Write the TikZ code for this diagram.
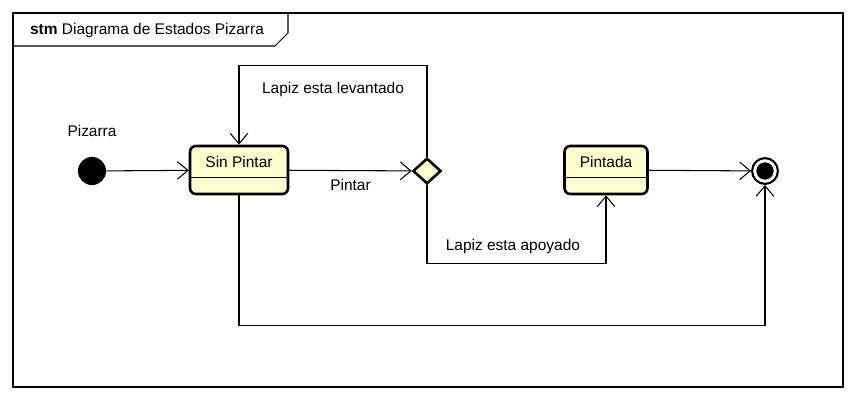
\documentclass[tikz,border=0pt]{standalone}
\usepackage{fontspec}
\setmainfont{Liberation Sans}
\usetikzlibrary{arrows.meta,shapes.geometric}
\definecolor{stfill}{RGB}{254,254,206}
\begin{document}
\begin{tikzpicture}[x=0.03cm,y=-0.03cm,
		every node/.style={font=\fontsize{13.2}{15}\selectfont},
		state/.style={draw,line width=2.2pt,rounded corners=5pt,fill=stfill,minimum height=41pt,inner sep=0pt},
		trans/.style={line width=0.9pt,-{Straight Barb[length=9pt,width=15pt,line width=0.9pt]}}]
		% bounding box and frame
		\useasboundingbox (0,0) rectangle (857,401);
		\draw[line width=0.9pt] (13,13) rectangle (843,387);
		\draw[line width=0.9pt] (13,46) -- (275,46) -- (288,33) -- (288,13);
		\node[anchor=west] (title) at (26,31) {\textbf{stm} Diagrama de Estados Pizarra};
		% Initial state
		\node[circle,fill=black,minimum size=24pt,inner sep=0pt] (ini) at (92,171) {};
		\node (inilbl) at (92,131) {Pizarra};
		% State Sin Pintar
		\node[state,minimum width=83.6pt] (sin) at (239,170) {};
		\node[yshift=6.5pt] (sintxt) at (sin) {Sin Pintar};
		\draw[line width=0.9pt] ([yshift=-6pt]sin.west) -- ([yshift=-6pt]sin.east);
		% Decision
		\node[diamond,draw,line width=2.2pt,fill=stfill,minimum width=24pt,minimum height=22pt,inner sep=0pt] (dec) at (427,171) {};
		% State Pintada
		\node[state,minimum width=70.8pt] (pin) at (606,170) {};
		\node[yshift=6.5pt] (pintxt) at (pin) {Pintada};
		\draw[line width=0.9pt] ([yshift=-6pt]pin.west) -- ([yshift=-6pt]pin.east);
		% Final state
		\node[circle,draw,line width=1.8pt,minimum size=22pt,inner sep=0pt] (fin) at (765,171) {};
		\fill (fin) circle (7.4pt);
		% Transitions
		\draw[trans] (ini) -- (sin);
		\draw[trans] (sin) -- (dec) node[pos=0.5,below=4pt] (lblpintar) {Pintar};
		\draw[trans] (dec.north) -- ++(0,-91) -| (sin.north)
			node[pos=0.25,below=10pt] (lbllev) {Lapiz esta levantado};
		\draw[trans] (dec.south) -- ++(0,78) -| (pin.south)
			node[pos=0.24,above=4pt] (lblapo) {Lapiz esta apoyado};
		\draw[trans] (pin) -- (fin);
		\draw[trans] (sin.south) -- ++(0,130) -| (fin.south);
\end{tikzpicture}
\end{document}
